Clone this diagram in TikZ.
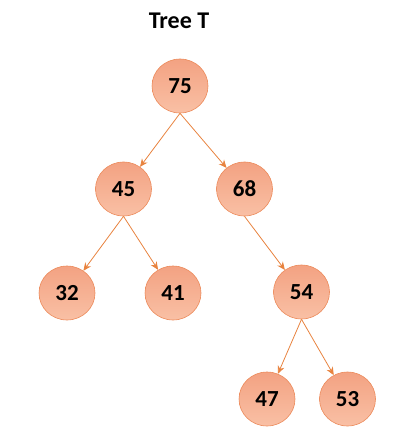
\documentclass[tikz,border=0pt]{standalone}
\usepackage{fontspec}
\setmainfont{Carlito}
\usetikzlibrary{shapes.geometric,arrows.meta}
\definecolor{edgeor}{HTML}{E8833F}
\definecolor{rimor}{HTML}{EC8A5A}
\definecolor{topfill}{HTML}{F3A282}
\definecolor{botfill}{HTML}{F9C0A5}
\tikzset{
  treenode/.style={ellipse, draw=rimor, line width=0.6pt, top color=topfill, bottom color=botfill,
    minimum width=56pt, minimum height=54pt, inner sep=0pt,
    font=\fontsize{23}{26}\selectfont\bfseries},
  treeedge/.style={draw=edgeor, line width=0.8pt, -{Stealth[length=8pt,width=7pt]}},
  titletext/.style={font=\fontsize{24}{28}\selectfont\bfseries}
}
\begin{document}
\begin{tikzpicture}[x=1pt,y=-1pt]
\useasboundingbox (0,0) rectangle (407,436);
\node[titletext] (title) at (179,21) {Tree T};
\node[treenode] (n75) at (180,86) {75};
\node[treenode] (n45) at (123.5,189) {45};
\node[treenode] (n68) at (244.5,189) {68};
\node[treenode] (n32) at (67,293) {32};
\node[treenode] (n41) at (173,293) {41};
\node[treenode] (n54) at (301.5,292) {54};
\node[treenode] (n47) at (267,399) {47};
\node[treenode] (n53) at (347.5,399) {53};
\draw[treeedge] (n75.south) -- (n45);
\draw[treeedge] (n75.south) -- (n68);
\draw[treeedge] (n45.south) -- (n32);
\draw[treeedge] (n45.south) -- (n41);
\draw[treeedge] (n68.south) -- (n54);
\draw[treeedge] (n54.south) -- (n47);
\draw[treeedge] (n54.south) -- (n53);
\end{tikzpicture}
\end{document}
